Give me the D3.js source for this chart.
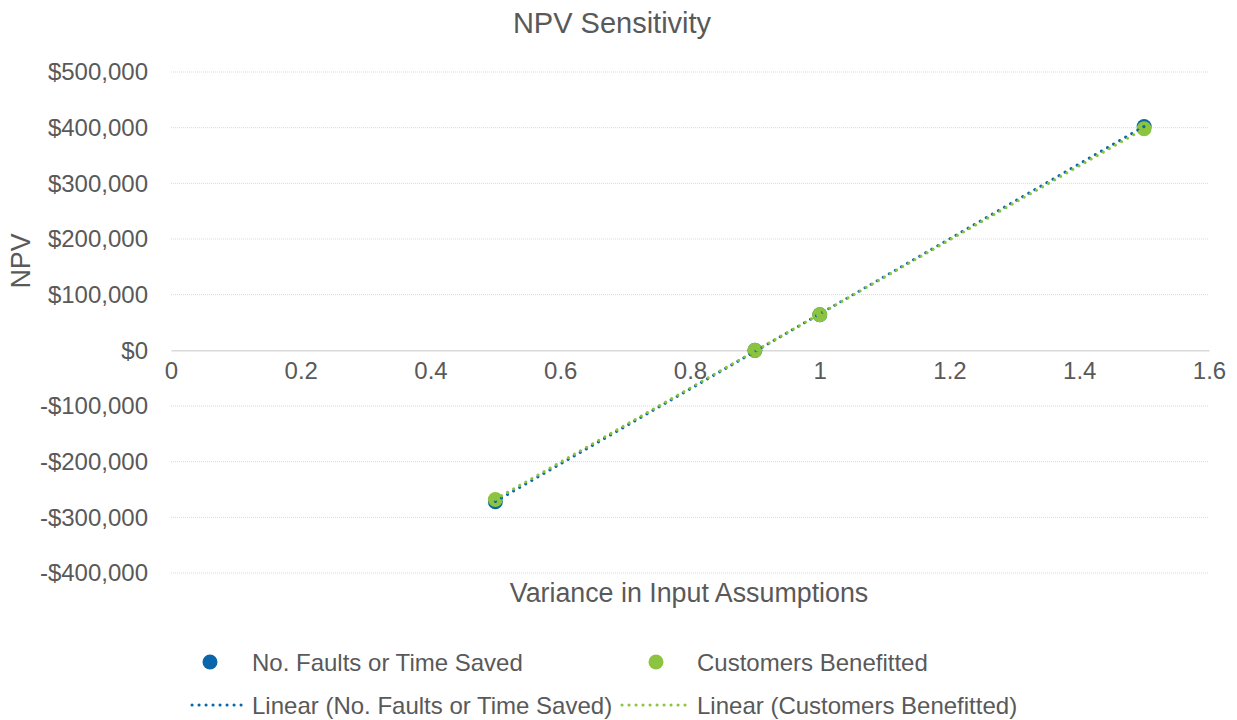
<!DOCTYPE html>
<html>
<head>
<meta charset="utf-8">
<script src="https://cdn.jsdelivr.net/npm/d3@7/dist/d3.min.js"></script>
<style>
  html, body { margin: 0; padding: 0; background: #fff; }
  svg { display: block; font-family: "Liberation Sans", Arial, sans-serif; }
</style>
</head>
<body>
<svg id="chart" width="1237" height="720"></svg>
<script>
// Sensitivity inputs (multiplier on base assumptions) and resulting NPV
const variance = [0.5, 0.9, 1.0, 1.5];
const faultsNPV = [-272000, 0, 64000, 402000];
const customersNPV = [-268000, 0, 64000, 398000];

const seriesNames = ["No. Faults or Time Saved", "Customers Benefitted"];
const seriesColors = ["#0A66AA", "#8CC43F"];

const xTicks = [0, 0.2, 0.4, 0.6, 0.8, 1, 1.2, 1.4, 1.6];
const yTicks = [-400000, -300000, -200000, -100000, 0, 100000, 200000, 300000, 400000, 500000];

const svg = d3.select("#chart");
const textColor = "#595959";
const fontStack = "'Liberation Sans', Arial, sans-serif";

const x = d3.scaleLinear().domain([0, 1.6]).range([171, 1209]);
const y = d3.scaleLinear().domain([-400000, 500000]).range([573, 72]);

const money = v => (v < 0 ? "-$" : "$") + d3.format(",")(Math.abs(v));

// Horizontal gridlines
svg.append("g")
  .selectAll("line")
  .data(yTicks.filter(d => d !== 0))
  .join("line")
  .attr("x1", x.range()[0]).attr("x2", x.range()[1])
  .attr("y1", d => y(d)).attr("y2", d => y(d))
  .attr("stroke", "#d9d9d9")
  .attr("stroke-width", 1)
  .attr("stroke-dasharray", "1 1");

// Y axis labels
const yAxis = d3.axisLeft(y).tickValues(yTicks).tickFormat(money).tickSize(0).tickPadding(23);
const gy = svg.append("g").attr("transform", `translate(${x.range()[0]},0)`).call(yAxis);
gy.select(".domain").remove();
gy.selectAll("text").attr("fill", textColor).attr("font-size", 24).attr("font-family", fontStack);

// X axis along zero
const xAxis = d3.axisBottom(x).tickValues(xTicks).tickFormat(d3.format("")).tickSize(0).tickPadding(12);
const gx = svg.append("g").attr("transform", `translate(0,${y(0)})`).call(xAxis);
gx.select(".domain").attr("stroke", "#d9d9d9").attr("stroke-width", 1.5);
gx.selectAll("text").attr("fill", textColor).attr("font-size", 24).attr("font-family", fontStack);

// Least squares fit
function linFit(xs, ys) {
  const n = xs.length;
  const mx = d3.mean(xs), my = d3.mean(ys);
  let sxy = 0, sxx = 0;
  for (let i = 0; i < n; i++) { sxy += (xs[i] - mx) * (ys[i] - my); sxx += (xs[i] - mx) ** 2; }
  const b = sxy / sxx;
  return { b, a: my - b * mx };
}

const series = [faultsNPV, customersNPV];

// Markers
series.forEach((vals, si) => {
  svg.append("g")
    .selectAll("circle")
    .data(variance.map((v, i) => [v, vals[i]]))
    .join("circle")
    .attr("cx", d => x(d[0]))
    .attr("cy", d => y(d[1]))
    .attr("r", 7.5)
    .attr("fill", seriesColors[si]);
});

// Dotted trendlines
series.forEach((vals, si) => {
  const f = linFit(variance, vals);
  const x0 = d3.min(variance), x1 = d3.max(variance);
  svg.append("line")
    .attr("x1", x(x0)).attr("y1", y(f.a + f.b * x0))
    .attr("x2", x(x1)).attr("y2", y(f.a + f.b * x1))
    .attr("stroke", seriesColors[si])
    .attr("stroke-width", 3)
    .attr("stroke-linecap", "round")
    .attr("stroke-dasharray", "0.1 6.9");
});

// Titles
svg.append("text")
  .attr("x", 612).attr("y", 33)
  .attr("text-anchor", "middle")
  .attr("fill", textColor).attr("font-size", 29)
  .text("NPV Sensitivity");

svg.append("text")
  .attr("x", 689).attr("y", 602)
  .attr("text-anchor", "middle")
  .attr("fill", textColor).attr("font-size", 26.8)
  .text("Variance in Input Assumptions");

svg.append("text")
  .attr("transform", "translate(30,261) rotate(-90)")
  .attr("text-anchor", "middle")
  .attr("fill", textColor).attr("font-size", 26.8)
  .text("NPV");

// Legend
const legend = svg.append("g");
const markerX = [210, 656];
const textX = [252, 697];
seriesNames.forEach((name, i) => {
  legend.append("circle").attr("cx", markerX[i]).attr("cy", 662).attr("r", 7.5).attr("fill", seriesColors[i]);
  legend.append("text").attr("x", textX[i]).attr("y", 671).attr("fill", textColor).attr("font-size", 24).text(name);
});
const lineStart = [192, 622];
seriesNames.forEach((name, i) => {
  legend.append("line")
    .attr("x1", lineStart[i]).attr("x2", textX[i] - 8)
    .attr("y1", 705).attr("y2", 705)
    .attr("stroke", seriesColors[i]).attr("stroke-width", 3)
    .attr("stroke-linecap", "round").attr("stroke-dasharray", "0.1 6.9");
  legend.append("text").attr("x", textX[i]).attr("y", 714).attr("fill", textColor).attr("font-size", 24).text(`Linear (${name})`);
});
</script>
</body>
</html>
